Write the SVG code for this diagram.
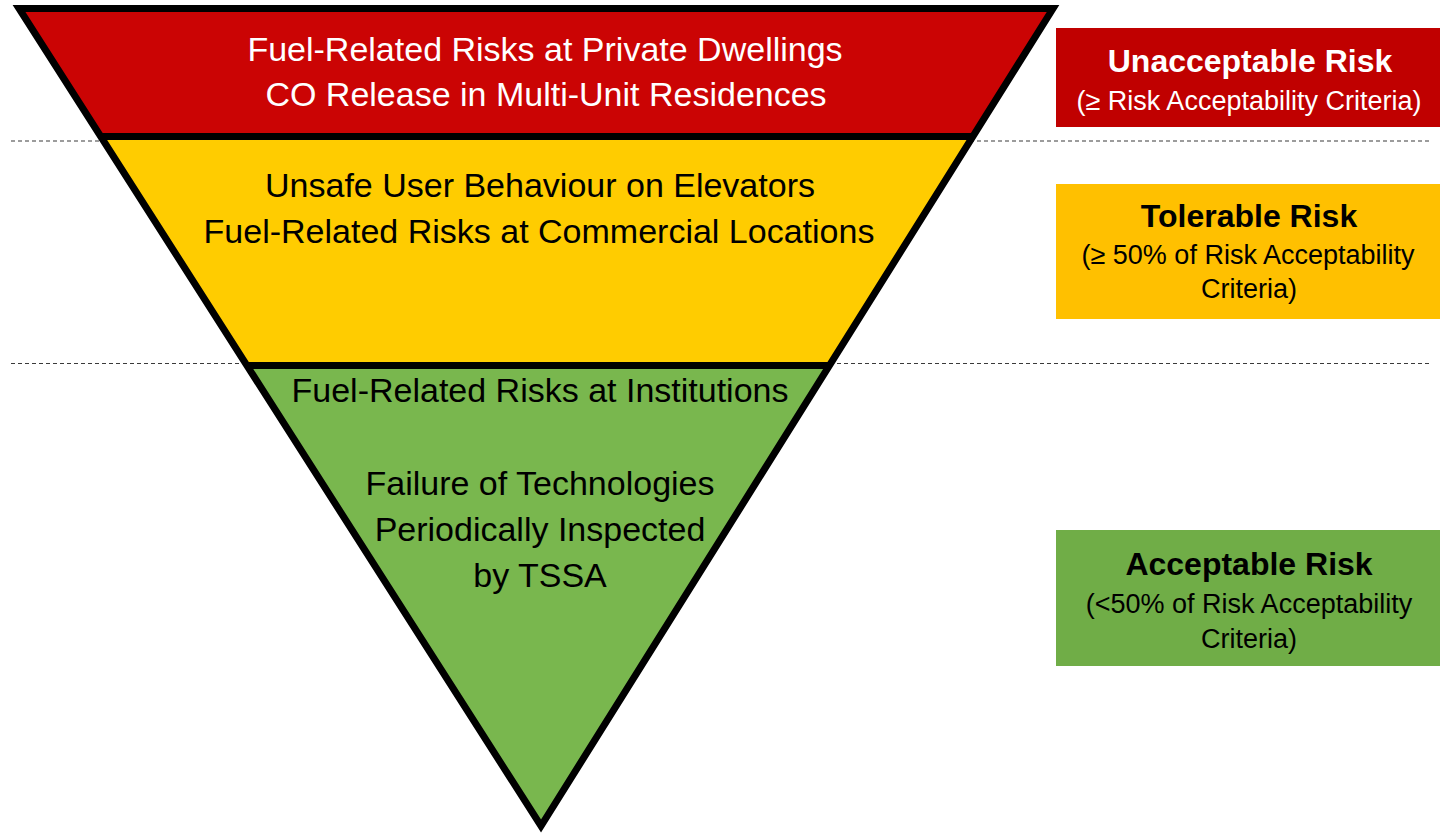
<svg xmlns="http://www.w3.org/2000/svg" width="1441" height="836" viewBox="0 0 1441 836">
<style>
.dash{stroke:#3a3a3a;stroke-width:1.2;stroke-dasharray:4 3;fill:none}
.sep{stroke:#000;stroke-width:7;fill:none}
.outline{stroke:#000;stroke-width:7;fill:none;stroke-linejoin:miter;stroke-miterlimit:10}
.main{font-family:"Liberation Sans",Arial,sans-serif;font-size:34px;text-anchor:middle}
.ttl{font-family:"Liberation Sans",Arial,sans-serif;font-size:32px;font-weight:bold;text-anchor:middle}
.sub{font-family:"Liberation Sans",Arial,sans-serif;font-size:27px;text-anchor:middle}
.w{fill:#fff}.k{fill:#000}
</style>
<rect width="1441" height="836" fill="#fff"/>
<g id="dividers">
<line class="dash" x1="11" y1="141" x2="1429" y2="141"/>
<line class="dash" x1="11" y1="363.5" x2="1429" y2="363.5"/>
</g>
<g id="band-unacceptable">
<polygon points="19,8.5 1053,8.5 972.6,136.5 101.4,136.5" fill="#CB0404"/>
<text class="main w" x="545" y="61">Fuel-Related Risks at Private Dwellings</text>
<text class="main w" x="546" y="106">CO Release in Multi-Unit Residences</text>
</g>
<g id="band-tolerable">
<polygon points="101.4,136.5 972.6,136.5 828.6,365.5 248.4,365.5" fill="#FFCC00"/>
<text class="main k" x="540" y="197">Unsafe User Behaviour on Elevators</text>
<text class="main k" x="539" y="243">Fuel-Related Risks at Commercial Locations</text>
</g>
<g id="band-acceptable">
<polygon points="248.4,365.5 828.6,365.5 541,826" fill="#79B74E"/>
<text class="main k" x="540" y="402">Fuel-Related Risks at Institutions</text>
<text class="main k" x="540" y="495">Failure of Technologies</text>
<text class="main k" x="540" y="541">Periodically Inspected</text>
<text class="main k" x="540" y="587">by TSSA</text>
</g>
<g id="pyramid-outline">
<line class="sep" x1="101.4" y1="136.5" x2="972.6" y2="136.5"/>
<line class="sep" x1="248.4" y1="365.5" x2="828.6" y2="365.5"/>
<polygon class="outline" points="19,8.5 1053,8.5 541,826"/>
</g>
<g id="legend-unacceptable">
<rect x="1056" y="28" width="384" height="99" fill="#C00000"/>
<text class="ttl w" x="1250" y="72">Unacceptable Risk</text>
<text class="sub w" x="1249" y="110">(≥ Risk Acceptability Criteria)</text>
</g>
<g id="legend-tolerable">
<rect x="1056" y="184" width="384" height="135" fill="#FFC000"/>
<text class="ttl k" x="1249" y="227">Tolerable Risk</text>
<text class="sub k" x="1248" y="264">(≥ 50% of Risk Acceptability</text>
<text class="sub k" x="1249" y="298">Criteria)</text>
</g>
<g id="legend-acceptable">
<rect x="1056" y="530" width="384" height="136" fill="#70AD47"/>
<text class="ttl k" x="1249" y="575">Acceptable Risk</text>
<text class="sub k" x="1249" y="613">(&lt;50% of Risk Acceptability</text>
<text class="sub k" x="1249" y="648">Criteria)</text>
</g>
</svg>
